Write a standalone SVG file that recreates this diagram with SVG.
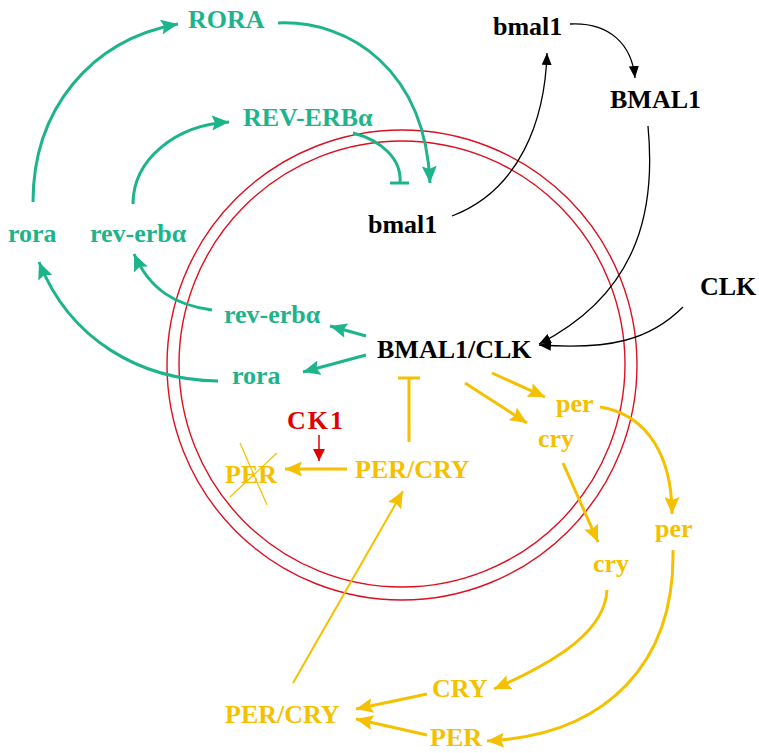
<svg xmlns="http://www.w3.org/2000/svg" width="759" height="753" viewBox="0 0 759 753">
<style>
text{font-family:"Liberation Serif","Times New Roman",serif;font-weight:bold;font-size:26px}
.t{fill:#1db48b}.y{fill:#f5c000}.k{fill:#000}.r{fill:#e00000}
.ct{fill:none;stroke:#1db48b;stroke-width:3}
.cy{fill:none;stroke:#f5c000;stroke-width:3}
.ck{fill:none;stroke:#000;stroke-width:1.3}
.cr{fill:none;stroke:#e00000;stroke-width:1.5}
</style>
<defs>
<marker id="at" markerUnits="userSpaceOnUse" markerWidth="17" markerHeight="15" viewBox="0 0 17 15" refX="17" refY="7.5" orient="auto"><path d="M0,0 L17,7.5 L0,15 L3,7.5 Z" fill="#1db48b"/></marker>
<marker id="ay" markerUnits="userSpaceOnUse" markerWidth="17" markerHeight="15" viewBox="0 0 17 15" refX="17" refY="7.5" orient="auto"><path d="M0,0 L17,7.5 L0,15 L3,7.5 Z" fill="#f5c000"/></marker>
<marker id="ak" markerUnits="userSpaceOnUse" markerWidth="12" markerHeight="10" viewBox="0 0 12 10" refX="12" refY="5" orient="auto"><path d="M0,0 L12,5 L0,10 Z" fill="#000"/></marker>
<marker id="ar" markerUnits="userSpaceOnUse" markerWidth="12" markerHeight="12" viewBox="0 0 12 12" refX="12" refY="6" orient="auto"><path d="M0,0 L12,6 L0,12 Z" fill="#e00000"/></marker>
</defs>
<g id="nucleus">
<circle cx="402" cy="365" r="235" fill="none" stroke="#dc1020" stroke-width="1.4"/>
<circle cx="402" cy="364" r="223" fill="none" stroke="#dc1020" stroke-width="1.4"/>
</g>
<g id="connectors">
<path class="ct" d="M33,202 C33,110 90,40 178,24" marker-end="url(#at)"/>
<path class="ct" d="M278,23 C350,20 425,70 430,183" marker-end="url(#at)"/>
<path class="ct" d="M133,204 C133,160 175,125 229,122" marker-end="url(#at)"/>
<path class="ct" d="M353,133 C380,140 402,158 400,183"/>
<path class="ct" d="M390,183 L409,183"/>
<path class="ct" d="M212,310 C175,305 150,290 134,254" marker-end="url(#at)"/>
<path class="ct" d="M218,381 C140,380 70,340 39,262" marker-end="url(#at)"/>
<path class="ct" d="M366,336 L330,326" marker-end="url(#at)"/>
<path class="ct" d="M366,355 L303,372" marker-end="url(#at)"/>
<path class="ck" d="M452,216 C520,190 545,120 547,53" marker-end="url(#ak)"/>
<path class="ck" d="M570,24 C610,22 632,45 635,78" marker-end="url(#ak)"/>
<path class="ck" d="M648,126 C655,200 645,290 539,344" marker-end="url(#ak)"/>
<path class="ck" d="M683,307 C650,340 610,350 539,345" marker-end="url(#ak)"/>
<path class="cy" d="M492,373 L545,397" marker-end="url(#ay)"/>
<path class="cy" d="M465,383 L527,423" marker-end="url(#ay)"/>
<path class="cy" d="M600,407 C650,415 672,460 672,514" marker-end="url(#ay)"/>
<path class="cy" d="M563,463 L598,542" marker-end="url(#ay)"/>
<path class="cy" d="M607,590 C605,630 560,660 494,689" marker-end="url(#ay)"/>
<path class="cy" d="M673,550 C675,660 610,735 487,741" marker-end="url(#ay)"/>
<path class="cy" d="M427,694 L356,709" marker-end="url(#ay)"/>
<path class="cy" d="M427,735 L356,719" marker-end="url(#ay)"/>
<path fill="none" stroke="#f5c000" stroke-width="2" d="M293,683 L403,491" marker-end="url(#ay)"/>
<path class="cy" d="M347,469 L285,469" marker-end="url(#ay)"/>
<path class="cy" d="M409,442 L409,378 M398,378 L420,378"/>
<path class="cr" d="M319,435 L319,461" marker-end="url(#ar)"/>
</g>
<g id="n-RORA"><text class="t" x="188" y="28">RORA</text></g>
<g id="n-REVERB"><text class="t" x="243" y="126">REV-ERBα</text></g>
<g id="n-rora-out"><text class="t" x="8" y="242">rora</text></g>
<g id="n-reverb-out"><text class="t" x="90" y="242">rev-erbα</text></g>
<g id="n-reverb-in"><text class="t" x="224" y="323">rev-erbα</text></g>
<g id="n-rora-in"><text class="t" x="232" y="384">rora</text></g>
<g id="n-bmal1-top"><text class="k" x="493" y="35">bmal1</text></g>
<g id="n-BMAL1"><text class="k" x="610" y="108">BMAL1</text></g>
<g id="n-bmal1-in"><text class="k" x="368" y="233">bmal1</text></g>
<g id="n-CLK"><text class="k" x="700" y="295">CLK</text></g>
<g id="n-BMAL1CLK"><text class="k" x="377" y="358">BMAL1/CLK</text></g>
<g id="n-CK1"><text class="r" x="287" y="429" textLength="56">CK1</text></g>
<g id="n-PER-deg"><text class="y" x="225" y="483">PER</text>
<path d="M240,443 L267,505 M277,453 L230,497" stroke="#f5c000" stroke-width="1.2" fill="none"/></g>
<g id="n-PERCRY-in"><text class="y" x="355" y="478">PER/CRY</text></g>
<g id="n-per-in"><text class="y" x="556" y="412">per</text></g>
<g id="n-cry-in"><text class="y" x="538" y="447">cry</text></g>
<g id="n-per-out"><text class="y" x="655" y="537">per</text></g>
<g id="n-cry-out"><text class="y" x="593" y="572">cry</text></g>
<g id="n-CRY"><text class="y" x="432" y="697">CRY</text></g>
<g id="n-PER"><text class="y" x="430" y="746">PER</text></g>
<g id="n-PERCRY-out"><text class="y" x="225" y="723">PER/CRY</text></g>
</svg>
